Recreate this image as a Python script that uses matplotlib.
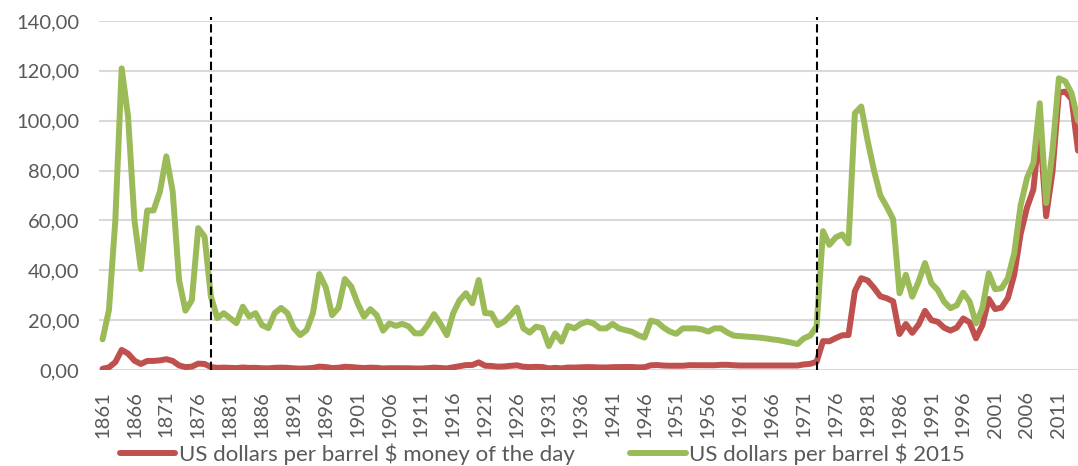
import numpy as np
import matplotlib.pyplot as plt

# Prix du baril 1861-2014
annees = np.arange(1861, 2015)

prix_courant = [
    0.5, 1.05, 3.15, 8.06, 6.59, 3.74, 2.41, 3.63, 3.64, 3.86,          # 1861-1870
    4.34, 3.64, 1.83, 1.17, 1.35, 2.56, 2.42, 1.19, 0.86, 0.95,         # 1871-1880
    0.86, 0.78, 1.0, 0.84, 0.88, 0.71, 0.67, 0.88, 0.94, 0.87,          # 1881-1890
    0.67, 0.56, 0.64, 0.84, 1.36, 1.18, 0.79, 0.91, 1.29, 1.19,         # 1891-1900
    0.96, 0.8, 0.94, 0.86, 0.62, 0.73, 0.72, 0.72, 0.7, 0.61,           # 1901-1910
    0.61, 0.74, 0.95, 0.81, 0.64, 1.1, 1.56, 1.98, 2.01, 3.07,          # 1911-1920
    1.73, 1.61, 1.34, 1.43, 1.68, 1.88, 1.3, 1.17, 1.27, 1.19,          # 1921-1930
    0.65, 0.87, 0.67, 1.0, 0.97, 1.09, 1.18, 1.13, 1.02, 1.02,          # 1931-1940
    1.14, 1.19, 1.2, 1.21, 1.05, 1.12, 1.9, 1.99, 1.78, 1.71,           # 1941-1950
    1.71, 1.71, 1.93, 1.93, 1.93, 1.93, 1.9, 2.08, 2.08, 1.9,           # 1951-1960
    1.8, 1.8, 1.8, 1.8, 1.8, 1.8, 1.8, 1.8, 1.8, 1.8,                   # 1961-1970
    2.24, 2.48, 3.29, 11.58, 11.53, 12.8, 13.92, 14.02, 31.61, 36.83,   # 1971-1980
    35.93, 32.97, 29.55, 28.78, 27.56, 14.43, 18.44, 14.92, 18.23, 23.73,  # 1981-1990
    20.0, 19.32, 16.97, 15.82, 17.02, 20.67, 19.09, 12.72, 17.97, 28.5,    # 1991-2000
    24.44, 25.02, 28.83, 38.27, 54.52, 65.14, 72.39, 97.26, 61.67, 79.5,   # 2001-2010
    111.26, 111.67, 108.66, 88.0,                                          # 2011-2014
]

prix_2015 = [
    12.3, 24.0, 60.0, 121.0, 101.7, 60.0, 40.5, 64.0, 64.0, 71.6,       # 1861-1870
    85.7, 71.6, 36.0, 23.8, 28.0, 56.9, 53.5, 29.4, 20.8, 22.8,         # 1871-1880
    20.8, 18.8, 25.4, 21.4, 22.8, 18.0, 16.8, 22.8, 24.9, 22.8,         # 1881-1890
    16.8, 14.0, 16.0, 22.8, 38.5, 33.2, 22.0, 24.9, 36.5, 33.5,         # 1891-1900
    26.8, 21.4, 24.4, 22.0, 15.8, 18.7, 17.7, 18.5, 17.5, 14.7,         # 1901-1910
    14.7, 18.0, 22.4, 18.5, 14.0, 22.8, 28.0, 30.8, 26.8, 36.1,         # 1911-1920
    22.8, 22.7, 18.0, 19.4, 22.0, 25.0, 16.7, 15.0, 17.4, 16.8,         # 1921-1930
    9.6, 14.7, 11.4, 17.7, 16.7, 18.5, 19.4, 18.7, 16.7, 16.7,          # 1931-1940
    18.5, 16.7, 16.0, 15.4, 14.0, 13.0, 19.8, 19.2, 17.0, 15.4,         # 1941-1950
    14.5, 16.7, 16.7, 16.7, 16.3, 15.4, 16.7, 16.7, 15.0, 13.8,         # 1951-1960
    13.6, 13.4, 13.2, 13.0, 12.7, 12.3, 12.0, 11.5, 11.0, 10.4,         # 1961-1970
    12.7, 13.8, 17.5, 55.7, 50.2, 53.2, 54.4, 50.8, 103.0, 105.7,       # 1971-1980
    92.0, 80.0, 70.0, 65.5, 60.5, 30.8, 38.2, 29.4, 35.5, 42.9,         # 1981-1990
    34.8, 32.1, 27.4, 24.8, 26.0, 31.0, 27.4, 18.7, 24.8, 38.8,         # 1991-2000
    32.4, 32.8, 36.8, 46.9, 66.0, 77.0, 83.0, 107.0, 67.0, 88.0,        # 2001-2010
    117.0, 115.8, 111.0, 100.0,                                         # 2011-2014
]

annees_chocs = [1878, 1973]   # lignes pointillées
graduations_x = np.arange(1861, 2012, 5)
graduations_y = np.arange(0, 141, 20)

nom_courant = "US dollars per barrel $ money of the day"
nom_2015 = "US dollars per barrel $ 2015"

plt.rcParams['font.family'] = ['Lato', 'DejaVu Sans']
gris = '#595959'

fig = plt.figure(figsize=(10.78, 4.66), dpi=100)
ax = fig.add_axes([99 / 1078, 96 / 466, 979 / 1078, 349 / 466])

ax.plot(annees, prix_courant, color='#C0504D', lw=4.3, label=nom_courant,
        solid_joinstyle='round', solid_capstyle='round', zorder=3)
ax.plot(annees, prix_2015, color='#9BBB59', lw=4.3, label=nom_2015,
        solid_joinstyle='round', solid_capstyle='round', zorder=4)

for a in annees_chocs:
    ax.vlines(a, 0, 141.8, colors='black', lw=1.5, linestyles=(0, (4, 2)),
              clip_on=False, zorder=5)

ax.set_xlim(1860.44, 2014.0)
ax.set_ylim(0, 140)
ax.set_yticks(graduations_y)
ax.set_yticklabels([f"{v:.2f}".replace('.', ',') for v in graduations_y])
ax.set_xticks(graduations_x)
ax.set_xticklabels([str(a) for a in graduations_x], rotation=90)
ax.tick_params(length=0, labelsize=14.5, colors=gris)
ax.tick_params(axis='y', pad=14)
ax.tick_params(axis='x', pad=15)

ax.grid(axis='y', color='#D9D9D9', lw=1.5)
ax.set_axisbelow(True)
for s in ax.spines.values():
    s.set_visible(False)

fig.legend(loc='lower center', bbox_to_anchor=(0.503, -0.04), ncol=2,
           frameon=False, fontsize=16, handlelength=2.5, handletextpad=0.15,
           columnspacing=2.5, labelcolor=gris)

fig.savefig('out.png', dpi=100)
